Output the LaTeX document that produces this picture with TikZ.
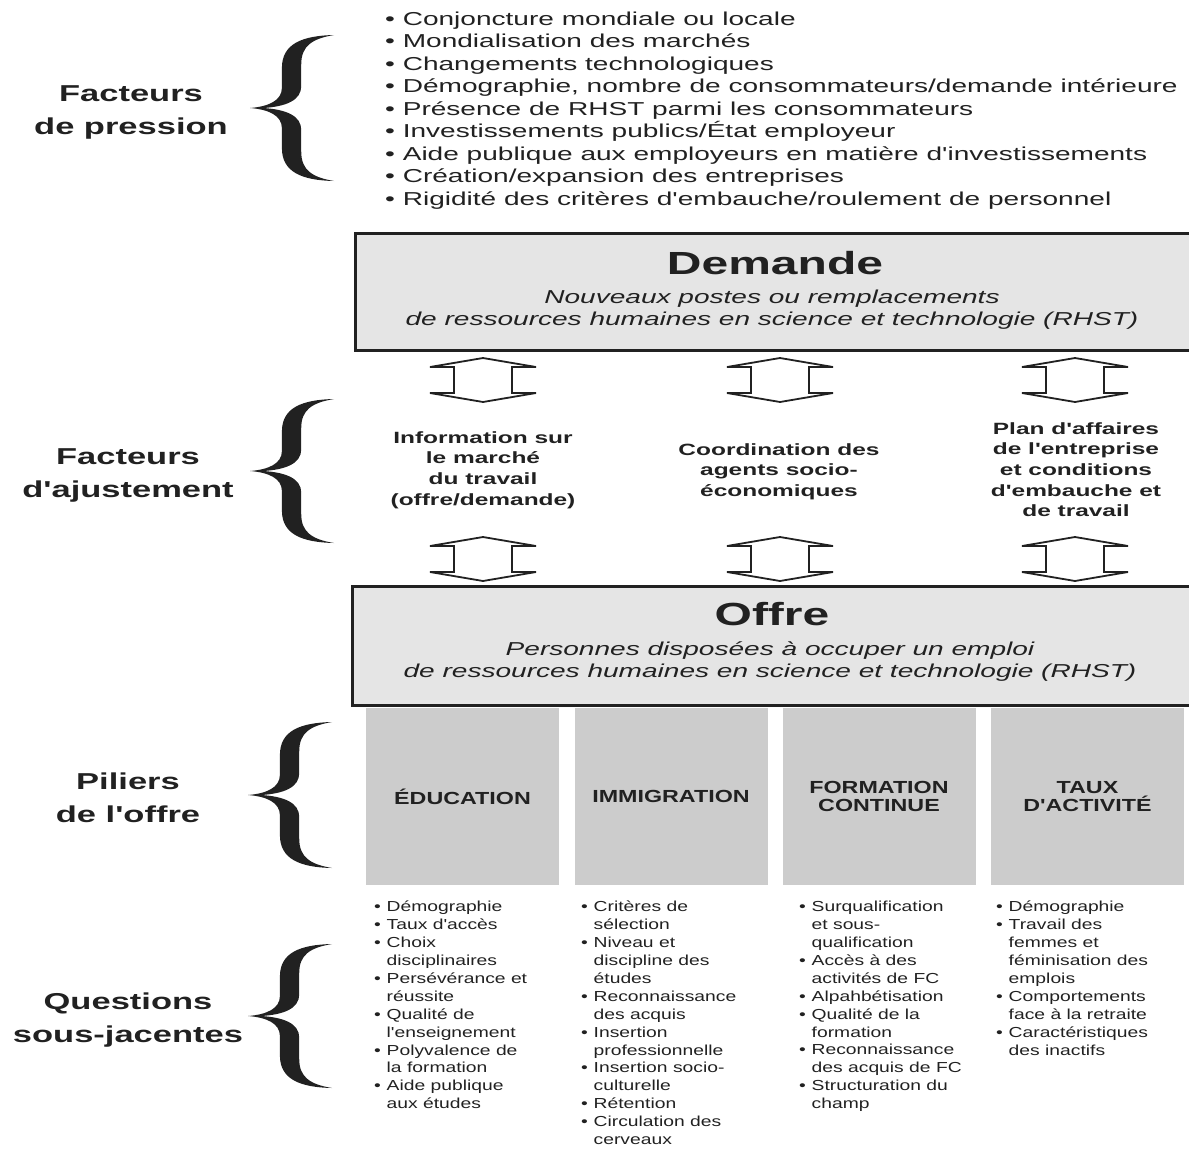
\documentclass[tikz,border=0pt]{standalone}
\usepackage{fontspec}
\newfontfamily\widesf{Liberation Sans}[FakeStretch=1.5]
\newfontfamily\narrowsf{Liberation Sans}[FakeStretch=1.33]
\usepackage{xcolor}

\definecolor{ink}{gray}{0.13}
\definecolor{boxgray}{gray}{0.9}
\definecolor{pillargray}{gray}{0.8}

\newcommand{\bul}{\makebox[12.5pt][l]{•}}
\newcommand{\ind}{\hspace*{12.5pt}}

\tikzset{
  twoway/.pic={
    \draw[line width=1.8pt, draw=ink, fill=white]
      (-29,-13) -- (-53,-13) -- (0,-22) -- (53,-13) -- (29,-13) -- (29,13)
      -- (53,13) -- (0,22) -- (-53,13) -- (-29,13) -- cycle;
  },
  curly/.pic={
    \fill[ink] (1,1) .. controls (0.62,0.99) and (0.38,0.88) .. (0.38,0.55)
      -- (0.38,0.28) .. controls (0.38,0.1) and (0.22,0.02) .. (0,0)
      .. controls (0.22,-0.02) and (0.38,-0.1) .. (0.38,-0.28)
      -- (0.38,-0.55) .. controls (0.38,-0.88) and (0.62,-0.99) .. (1,-1)
      .. controls (0.74,-0.95) and (0.61,-0.85) .. (0.61,-0.6)
      -- (0.61,-0.3) .. controls (0.61,-0.1) and (0.42,-0.02) .. (0.16,0)
      .. controls (0.42,0.02) and (0.61,0.1) .. (0.61,0.3)
      -- (0.61,0.6) .. controls (0.61,0.85) and (0.74,0.95) .. (1,1) -- cycle;
  }
}

\begin{document}
\begin{tikzpicture}
  [x=1pt,y=-1pt,every node/.style={inner sep=0pt,text=ink},
   toplist/.style={anchor=base west,font=\widesf\fontsize{18.7}{22.5}\selectfont},
   sidelabel/.style={anchor=north,align=center,font=\widesf\bfseries\fontsize{23}{33}\selectfont},
   mainbox/.style={draw=ink,line width=3pt,fill=boxgray},
   boxtitle/.style={anchor=base,font=\widesf\bfseries\fontsize{32}{38}\selectfont},
   boxsub/.style={anchor=north,align=center,font=\widesf\itshape\fontsize{18.7}{22}\selectfont},
   adjust/.style={anchor=north,align=center,font=\widesf\bfseries\fontsize{16.3}{20.7}\selectfont},
   pillar/.style={fill=pillargray,minimum width=193pt,minimum height=177pt,align=center,
     font=\narrowsf\bfseries\fontsize{17.5}{18}\selectfont},
   issues/.style={anchor=north west,align=left,font=\narrowsf\fontsize{14.5}{17.9}\selectfont}]
  \useasboundingbox (0,0) rectangle (1189,1149);
  \clip (0,0) rectangle (1189,1149);

  % left labels and braces
  \node[sidelabel] (pression) at (131,85) {Facteurs\\de pression};
  \node[sidelabel] (ajust) at (128,448) {Facteurs\\d'ajustement};
  \node[sidelabel] (piliers) at (128,773) {Piliers\\de l'offre};
  \node[sidelabel] (questions) at (128,993) {Questions\\sous-jacentes};
  \foreach \bx/\by/\bh in {250/108/73,250/471/72,248/795/73,248/1016/72} {
    \begin{scope}[shift={(\bx,\by)},x=84pt,y=\bh pt]
      \pic {curly};
    \end{scope}
  }

  \foreach \t [count=\i] in {Conjoncture mondiale ou locale, Mondialisation des marchés,
    Changements technologiques, {Démographie, nombre de consommateurs/demande intérieure},
    Présence de RHST parmi les consommateurs, Investissements publics/État employeur,
    Aide publique aux employeurs en matière d'investissements,
    Création/expansion des entreprises, Rigidité des critères d'embauche/roulement de personnel}
    \node[toplist] (p\i) at (385,{25+22.5*(\i-1)}) {• \t};

  % demande
  \node[mainbox,minimum width=838pt,minimum height=117pt] (dem) at (774,291.5) {};
  \node[boxtitle] (demt) at (775,274) {Demande};
  \node[boxsub] (dems) at (772,290) {Nouveaux postes ou remplacements\\
    de ressources humaines en science et technologie (RHST)};

  \foreach \x in {483,780,1075} {
    \pic at (\x,380) {twoway};
    \pic at (\x,559) {twoway};
  }
  \node[adjust] (info) at (483,431) {Information sur\\le marché\\du travail\\(offre/demande)};
  \node[adjust] (coord) at (779,443) {Coordination des\\agents socio-\\économiques};
  \node[adjust] (plan) at (1076,422) {Plan d'affaires\\de l'entreprise\\et conditions\\d'embauche et\\de travail};

  % offre
  \node[mainbox,minimum width=841pt,minimum height=119pt] (off) at (772.5,645.5) {};
  \node[boxtitle] (offt) at (772,625) {Offre};
  \node[boxsub] (offs) at (770,642) {Personnes disposées à occuper un emploi\\
    de ressources humaines en science et technologie (RHST)};

  \node[pillar] (edu) at (462.5,796.5) {ÉDUCATION};
  \node[pillar] (immi) at (671,796.5) {IMMIGRATION};
  \node[pillar] (form) at (879,796.5) {FORMATION\\CONTINUE};
  \node[pillar] (taux) at (1087.5,796.5) {TAUX\\D'ACTIVITÉ};

  % questions sous-jacentes
  \node[issues] (qedu) at (374,901) {\bul Démographie\\\bul Taux d'accès\\\bul Choix\\
    \ind disciplinaires\\\bul Persévérance et\\\ind réussite\\\bul Qualité de\\
    \ind l'enseignement\\\bul Polyvalence de\\\ind la formation\\\bul Aide publique\\
    \ind aux études};
  \node[issues] (qimmi) at (581,901) {\bul Critères de\\\ind sélection\\\bul Niveau et\\
    \ind discipline des\\\ind études\\\bul Reconnaissance\\\ind des acquis\\
    \bul Insertion\\\ind professionnelle\\\bul Insertion socio-\\\ind culturelle\\
    \bul Rétention\\\bul Circulation des\\\ind cerveaux};
  \node[issues] (qform) at (799,901) {\bul Surqualification\\\ind et sous-\\
    \ind qualification\\\bul Accès à des\\\ind activités de FC\\\bul Alpahbétisation\\
    \bul Qualité de la\\\ind formation\\\bul Reconnaissance\\\ind des acquis de FC\\
    \bul Structuration du\\\ind champ};
  \node[issues] (qtaux) at (996,901) {\bul Démographie\\\bul Travail des\\\ind femmes et\\
    \ind féminisation des\\\ind emplois\\\bul Comportements\\\ind face à la retraite\\
    \bul Caractéristiques\\\ind des inactifs};

\end{tikzpicture}
\end{document}
